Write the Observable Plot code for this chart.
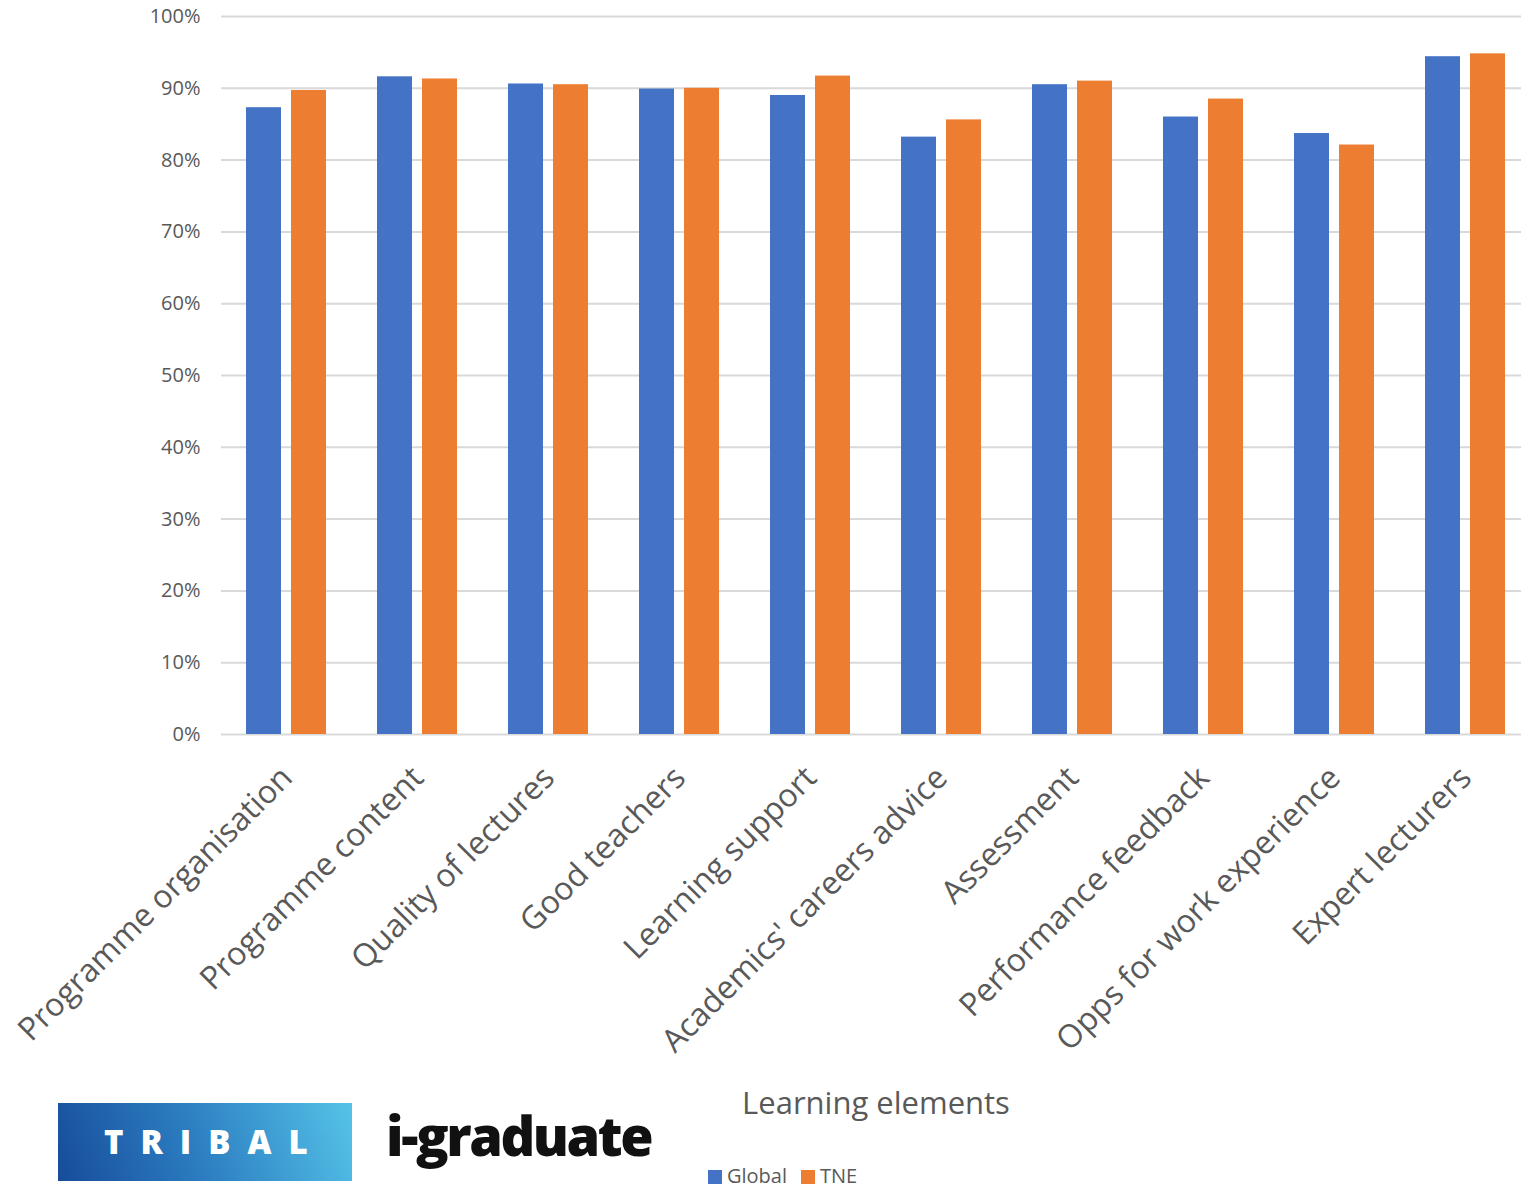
<!DOCTYPE html>
<html>
<head>
<meta charset="utf-8">
<script src="https://cdn.jsdelivr.net/npm/d3@7"></script>
<script src="https://cdn.jsdelivr.net/npm/@observablehq/plot@0.6"></script>
<style>
  html, body { margin: 0; padding: 0; background: #fff; }
  #wrap { position: relative; width: 1521px; height: 1189px; overflow: hidden; font-family: "Open Sans", sans-serif; }
  #chart { position: absolute; left: 0; top: 0; width: 1531px; }
  #chart svg { max-width: none !important; }
  .tribal { position: absolute; left: 58px; top: 1103px; width: 294px; height: 78px;
    background: linear-gradient(70deg, #174c9a 0%, #2b7cc0 45%, #55c3e8 100%);
    color: #fff; font-family: "Open Sans", sans-serif; font-weight: 800; font-size: 33px;
    letter-spacing: 17px; line-height: 78px; text-indent: 46px; white-space: nowrap; }
  .igrad { position: absolute; left: 386px; top: 1100px; font-family: "Open Sans", sans-serif;
    font-weight: 800; font-size: 54px; letter-spacing: -2.4px; color: #111; line-height: 70px; white-space: nowrap; }
  .xtitle { position: absolute; left: 0; width: 1752px; top: 1080px; text-align: center;
    font-size: 31px; color: #595959; line-height: 44px; }
  .legend { position: absolute; left: 708px; top: 1166px; font-size: 20px; color: #595959; line-height: 20px; white-space: nowrap; }
  .legend span.sw { display: inline-block; width: 14px; height: 14px; vertical-align: -1px; margin-right: 5px; }
  .legend span.item { margin-right: 14px; }
</style>
</head>
<body>
<div id="wrap">
  <div id="chart"></div>
  <div class="tribal">TRIBAL</div>
  <div class="igrad">i-graduate</div>
  <div class="xtitle">Learning elements</div>
  <div class="legend" id="legend"></div>
</div>
<script>
const categories = [
  "Programme organisation", "Programme content", "Quality of lectures", "Good teachers",
  "Learning support", "Academics' careers advice", "Assessment", "Performance feedback",
  "Opps for work experience", "Expert lecturers"
];
const seriesNames = ["Global", "TNE"];
const seriesColors = ["#4472c4", "#ed7d31"];
const globalValues = [0.873, 0.916, 0.906, 0.899, 0.890, 0.832, 0.905, 0.860, 0.837, 0.944];
const tneValues    = [0.897, 0.913, 0.905, 0.900, 0.917, 0.856, 0.910, 0.885, 0.821, 0.948];
const yTicks = [0, 0.1, 0.2, 0.3, 0.4, 0.5, 0.6, 0.7, 0.8, 0.9, 1.0];

const data = [];
categories.forEach((c, i) => {
  data.push({category: c, series: "Global", value: globalValues[i]});
  data.push({category: c, series: "TNE", value: tneValues[i]});
});

const chart = Plot.plot({
  width: 1531,
  height: 1090,
  marginTop: 16,
  marginLeft: 221,
  marginRight: 0,
  marginBottom: 356,
  style: {fontFamily: "'Open Sans', sans-serif", color: "#595959", background: "#fff", overflow: "visible", maxWidth: "none"},
  fx: {domain: categories, padding: 0, label: null},
  x: {domain: seriesNames, paddingInner: 0.22, paddingOuter: 0.55, axis: null},
  y: {domain: [0, 1], label: null},
  color: {domain: seriesNames, range: seriesColors},
  marks: [
    Plot.ruleY(yTicks, {stroke: "#d9d9d9", strokeWidth: 2}),
    Plot.barY(data, {fx: "category", x: "series", y: "value", fill: "series", inset: 0}),
    Plot.axisY(yTicks, {tickSize: 0, tickPadding: 21, tickFormat: d3.format(".0%"), fontSize: 20, label: null}),
    Plot.axisFx({anchor: "bottom", tickRotate: -45, tickSize: 0, tickPadding: 38, fontSize: 32, label: null})
  ]
});
document.getElementById("chart").appendChild(chart);

const legend = document.getElementById("legend");
seriesNames.forEach((s, i) => {
  const item = document.createElement("span");
  item.className = "item";
  item.innerHTML = `<span class="sw" style="background:${seriesColors[i]}"></span>${s}`;
  legend.appendChild(item);
});
</script>
</body>
</html>
